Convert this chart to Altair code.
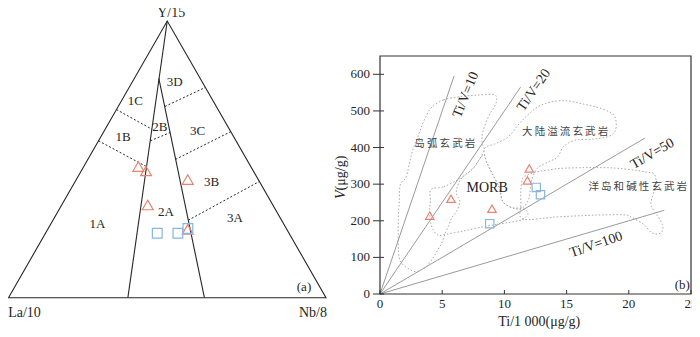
import altair as alt
import pandas as pd

# ======================= panel (a): La/10 - Y/15 - Nb/8 =======================
# all compositions as fractions (La, Y, Nb)
corner_label = ["La/10", "Y/15", "Nb/8"]
corner_la = [1.0, 0.0, 0.0]
corner_y = [0.0, 1.0, 0.0]
corner_nb = [0.0, 0.0, 1.0]

solid_name = ["1|2", "2|3"]
solid_start_la = [0.000, 0.130]
solid_start_y = [1.000, 0.793]
solid_start_nb = [0.000, 0.077]
solid_end_la = [0.624, 0.383]
solid_end_y = [0.000, 0.000]
solid_end_nb = [0.376, 0.617]

dotted_name = ["1C|1B", "1B|1A", "2B|2A", "3D|3C", "3C|3B", "3B|3A"]
dotted_start_la = [0.320, 0.433, 0.270, 0.162, 0.224, 0.294]
dotted_start_y = [0.680, 0.567, 0.567, 0.691, 0.500, 0.280]
dotted_start_nb = [0.000, 0.000, 0.163, 0.147, 0.276, 0.426]
dotted_end_la = [0.244, 0.329, 0.192, 0.000, 0.000, 0.000]
dotted_end_y = [0.609, 0.474, 0.597, 0.760, 0.600, 0.420]
dotted_end_nb = [0.147, 0.197, 0.211, 0.240, 0.400, 0.580]

field_label = ["1A", "1B", "1C", "2A", "2B", "3A", "3B", "3C", "3D"]
field_la = [0.586, 0.350, 0.245, 0.349, 0.215, 0.142, 0.151, 0.103, 0.086]
field_y = [0.268, 0.579, 0.711, 0.311, 0.617, 0.289, 0.418, 0.603, 0.781]
field_nb = [0.146, 0.071, 0.044, 0.340, 0.168, 0.569, 0.431, 0.294, 0.133]

tri_a_la = [0.354, 0.338, 0.394, 0.222, 0.312]
tri_a_y = [0.474, 0.458, 0.335, 0.427, 0.247]
tri_a_nb = [0.172, 0.204, 0.271, 0.351, 0.441]

sq_a_la = [0.415, 0.350, 0.310]
sq_a_y = [0.233, 0.233, 0.250]
sq_a_nb = [0.352, 0.417, 0.440]

# ======================= panel (b): Ti - V =======================
ti_max = 25
v_max = 650
x_ticks = [0, 5, 10, 15, 20, 25]
y_ticks = [0, 100, 200, 300, 400, 500, 600]

ratio_values = [10, 20, 50, 100]
ratio_end_ti = [5.95, 11.3, 21.3, 22.85]
ratio_label_ti = [6.9, 12.37, 21.9, 17.38]
ratio_label_v = [544, 557, 383, 135]

tri_b_ti = [4.0, 5.71, 9.0, 11.85, 12.0]
tri_b_v = [214, 260, 233, 310, 343]
sq_b_ti = [8.82, 12.56, 12.9]
sq_b_v = [192, 291, 271]

arc_ti = [4.19, 5.11, 6.42, 7.74, 9.06, 9.38, 9.27, 8.79, 8.27, 8.21, 8.35, 7.50, 6.60, 6.20, 6.16,
          6.42, 6.16, 5.77, 5.50, 5.20, 4.98, 4.58, 4.19, 3.79, 3.40, 2.87, 2.34, 1.82, 1.55, 1.47,
          1.47, 1.47, 1.55, 1.63, 2.08, 2.35, 2.60, 3.00, 3.40, 3.79]
arc_v = [511, 530, 539, 543, 545, 536, 516, 489, 444, 412, 390, 345, 318, 292, 271,
         253, 226, 208, 185, 162, 140, 117, 95, 77, 68, 61, 68, 81, 99, 126,
         162, 208, 253, 298, 318, 354, 390, 426, 462, 491]

morb_ti = [4.10, 5.13, 6.45, 7.50, 8.30, 8.56, 9.08, 9.61, 9.87, 10.66, 11.45, 11.90, 11.43, 10.11,
           8.53, 6.69, 5.11, 4.58, 4.11, 4.00, 4.05]
morb_v = [285, 293, 316, 343, 380, 361, 325, 289, 253, 235, 235, 220, 203, 194,
          185, 172, 162, 162, 189, 226, 253]

cfb_ti = [8.56, 8.40, 9.22, 10.27, 11.19, 12.11, 13.16, 14.74, 16.32, 17.90, 18.83, 18.96, 18.43,
          17.11, 15.67, 14.74, 14.27, 13.43, 12.64, 12.16, 11.98, 11.45, 10.66, 9.87, 9.61, 9.08]
cfb_v = [361, 397, 410, 428, 465, 496, 519, 528, 519, 505, 487, 451, 431,
         423, 420, 402, 374, 359, 343, 307, 262, 235, 235, 253, 289, 325]

oib_ti = [11.45, 11.85, 12.64, 13.43, 14.48, 16.32, 18.17, 19.22, 20.54, 21.40, 22.06, 22.17, 21.86,
          21.80, 22.30, 22.70, 22.70, 22.35, 21.80, 21.20, 20.30, 19.75, 17.90, 16.30, 14.45, 13.16,
          11.85, 11.27, 11.32, 11.32]
oib_v = [314, 325, 334, 338, 343, 345, 345, 343, 338, 333, 327, 298, 262,
         240, 214, 190, 172, 164, 168, 190, 208, 216, 216, 214, 211, 207,
         203, 212, 244, 280]

region_names = ["岛弧玄武岩", "MORB", "大陆溢流玄武岩", "洋岛和碱性玄武岩"]
region_label_ti = [5.21, 8.61, 14.88, 20.72]
region_label_v = [409, 289, 442, 293]

# ======================= helpers =======================
SERIF = "Liberation Serif"
CJK = "Noto Sans CJK SC"
DARK = "#262626"
RED = "#e8836f"
BLUE = "#86b7e3"

XA = alt.Scale(domain=[0, 1], range=[0.5, 318], nice=False, zero=False)
YA = alt.Scale(domain=[0, 1], range=[289.7, 13], nice=False, zero=False)
XB = alt.Scale(domain=[0, ti_max], range=[372, 683], nice=False, zero=False)
YB = alt.Scale(domain=[0, v_max], range=[286, 48], nice=False, zero=False)


def ax(f="u"):
    return alt.X(f, type="quantitative", scale=XA, axis=None)


def ay(f="v"):
    return alt.Y(f, type="quantitative", scale=YA, axis=None)


def bx(f="ti"):
    return alt.X(f, type="quantitative", scale=XB, axis=None)


def by(f="v"):
    return alt.Y(f, type="quantitative", scale=YB, axis=None)


def tern_points(la, y, nb, **extra):
    df = pd.DataFrame({"la": la, "y": y, "nb": nb, **extra})
    df["u"] = df["nb"] + df["y"] / 2.0
    df["v"] = df["y"]
    return df


def tern_segments(names, la0, y0, nb0, la1, y1, nb1):
    rows = []
    for n, a, b, c, d, e, f in zip(names, la0, y0, nb0, la1, y1, nb1):
        rows.append({"seg": n, "i": 0, "u": c + b / 2.0, "v": b})
        rows.append({"seg": n, "i": 1, "u": f + e / 2.0, "v": e})
    return pd.DataFrame(rows)


layers = []

# ---------- panel (a) ----------
corners = tern_points(corner_la, corner_y, corner_nb, label=corner_label, i=[0, 1, 2])
layers.append(
    alt.Chart(corners).mark_line(color=DARK, strokeWidth=1.1, interpolate="linear-closed")
    .encode(x=ax(), y=ay(), order="i:Q")
)
solid = tern_segments(solid_name, solid_start_la, solid_start_y, solid_start_nb,
                      solid_end_la, solid_end_y, solid_end_nb)
layers.append(
    alt.Chart(solid).mark_line(color=DARK, strokeWidth=1.1)
    .encode(x=ax(), y=ay(), detail="seg:N", order="i:Q")
)
dotted = tern_segments(dotted_name, dotted_start_la, dotted_start_y, dotted_start_nb,
                       dotted_end_la, dotted_end_y, dotted_end_nb)
layers.append(
    alt.Chart(dotted).mark_line(color=DARK, strokeWidth=1, strokeDash=[2, 2])
    .encode(x=ax(), y=ay(), detail="seg:N", order="i:Q")
)
fields = tern_points(field_la, field_y, field_nb, label=field_label)
layers.append(
    alt.Chart(fields).mark_text(font=SERIF, fontSize=13, color=DARK)
    .encode(x=ax(), y=ay(), text="label:N")
)
layers.append(
    alt.Chart(tern_points(tri_a_la, tri_a_y, tri_a_nb)).mark_point(
        shape="triangle-up", filled=False, size=120, strokeWidth=1.2, color=RED, opacity=1)
    .encode(x=ax(), y=ay())
)
layers.append(
    alt.Chart(tern_points(sq_a_la, sq_a_y, sq_a_nb)).mark_point(
        shape="square", filled=False, size=95, strokeWidth=1.2, color=BLUE, opacity=1)
    .encode(x=ax(), y=ay())
)
corner_style = {"La/10": dict(dx=16, dy=15), "Y/15": dict(dx=4, dy=-4, baseline="alphabetic"),
                "Nb/8": dict(dx=-13, dy=15)}
for lab in corner_label:
    layers.append(
        alt.Chart(corners[corners["label"] == lab]).mark_text(
            font=SERIF, fontSize=14, color=DARK, **corner_style[lab])
        .encode(x=ax(), y=ay(), text="label:N")
    )
panel_a_tag = corners[corners["label"] == "Nb/8"].assign(tag="(a)")
layers.append(
    alt.Chart(panel_a_tag).mark_text(font=SERIF, fontSize=13, color=DARK, dx=-22, dy=-11)
    .encode(x=ax(), y=ay(), text="tag:N")
)

# ---------- panel (b) ----------
# Ti/V reference lines
rl = []
for r, t in zip(ratio_values, ratio_end_ti):
    rl.append({"ratio": r, "ti": 0.0, "v": 0.0})
    rl.append({"ratio": r, "ti": t, "v": t * 1000.0 / r})
layers.append(
    alt.Chart(pd.DataFrame(rl)).mark_line(color="#9a9a9a", strokeWidth=1)
    .encode(x=bx(), y=by(), detail="ratio:N")
)

# dotted field outlines
rg = []
for name, ts, vs in [("arc", arc_ti, arc_v), ("morb", morb_ti, morb_v),
                     ("cfb", cfb_ti, cfb_v), ("oib", oib_ti, oib_v)]:
    for i, (t, v) in enumerate(zip(ts, vs)):
        rg.append({"region": name, "i": i, "ti": t, "v": v})
layers.append(
    alt.Chart(pd.DataFrame(rg)).mark_line(
        color="#a8a8a8", strokeWidth=1, strokeDash=[1.5, 2], interpolate="cardinal-closed")
    .encode(x=bx(), y=by(), detail="region:N", order="i:Q")
)

# frame
frame = pd.DataFrame({"x0": [0], "x1": [ti_max], "y0": [0], "y1": [v_max]})
layers.append(
    alt.Chart(frame).mark_rect(fill="transparent", stroke="#333333", strokeWidth=1.2)
    .encode(x=bx("x0"), x2="x1", y=by("y0"), y2="y1")
)

# ticks & tick labels
xt = pd.DataFrame({"ti": x_ticks, "v": [0] * len(x_ticks), "lab": [str(t) for t in x_ticks]})
yt = pd.DataFrame({"ti": [0] * len(y_ticks), "v": y_ticks, "lab": [str(t) for t in y_ticks]})
layers.append(
    alt.Chart(xt).mark_rule(color="#333333", strokeWidth=1, y2Offset=-4)
    .encode(x=bx(), y=by(), y2="v")
)
layers.append(
    alt.Chart(yt).mark_rule(color="#333333", strokeWidth=1, xOffset=-7, x2Offset=4)
    .encode(x=bx(), x2="ti", y=by())
)
layers.append(
    alt.Chart(xt).mark_text(font=SERIF, fontSize=13, color=DARK, baseline="top", dy=4)
    .encode(x=bx(), y=by(), text="lab:N")
)
layers.append(
    alt.Chart(yt).mark_text(font=SERIF, fontSize=13, color=DARK, align="right", dx=-10)
    .encode(x=bx(), y=by(), text="lab:N")
)

# axis titles
layers.append(
    alt.Chart(pd.DataFrame({"ti": [12.8], "v": [0], "t": ["Ti/1 000(μg/g)"]}))
    .mark_text(font=SERIF, fontSize=14, color=DARK, baseline="alphabetic", dy=32)
    .encode(x=bx(), y=by(), text="t:N")
)
ytitle = pd.DataFrame({"ti": [-3.1], "v": [283]})
layers.append(
    alt.Chart(ytitle.assign(t="V")).mark_text(
        font=SERIF, fontSize=14, fontStyle="italic", color=DARK, angle=270, align="right",
        baseline="middle")
    .encode(x=bx(), y=by(), text="t:N")
)
layers.append(
    alt.Chart(ytitle.assign(t="(μg/g)")).mark_text(
        font=SERIF, fontSize=14, color=DARK, angle=270, align="left", baseline="middle")
    .encode(x=bx(), y=by(), text="t:N")
)

# Ti/V labels
ratio_angles = [292, 305, 330, 341]
for r, t, v, a in zip(ratio_values, ratio_label_ti, ratio_label_v, ratio_angles):
    layers.append(
        alt.Chart(pd.DataFrame({"ti": [t], "v": [v], "t": [f"Ti/V={r}"]}))
        .mark_text(font=SERIF, fontSize=14, color=DARK, angle=a)
        .encode(x=bx(), y=by(), text="t:N")
    )

# region labels
for name, t, v in zip(region_names, region_label_ti, region_label_v):
    if name == "MORB":
        mk = alt.Chart(pd.DataFrame({"ti": [t], "v": [v], "t": [name]})).mark_text(
            font=SERIF, fontSize=14, color="#1a1a1a")
    else:
        mk = alt.Chart(pd.DataFrame({"ti": [t], "v": [v], "t": ["\u2009".join(name)]})).mark_text(
            font=CJK, fontSize=10.5, color="#444444")
    layers.append(mk.encode(x=bx(), y=by(), text="t:N"))

# samples
layers.append(
    alt.Chart(pd.DataFrame({"ti": tri_b_ti, "v": tri_b_v})).mark_point(
        shape="triangle-up", filled=False, size=72, strokeWidth=1.2, color=RED, opacity=1)
    .encode(x=bx(), y=by())
)
layers.append(
    alt.Chart(pd.DataFrame({"ti": sq_b_ti, "v": sq_b_v})).mark_point(
        shape="square", filled=False, size=70, strokeWidth=1.2, color=BLUE, opacity=1)
    .encode(x=bx(), y=by())
)
layers.append(
    alt.Chart(pd.DataFrame({"ti": [24.3], "v": [25], "t": ["(b)"]})).mark_text(
        font=SERIF, fontSize=13, color=DARK)
    .encode(x=bx(), y=by(), text="t:N")
)

chart = (
    alt.layer(*layers)
    .resolve_scale(x="independent", y="independent")
    .properties(width=684, height=321, autosize=alt.AutoSizeParams(type="none"), padding=0)
    .configure_view(strokeWidth=0)
)

chart.save("out.html", embed_options={"renderer": "svg", "actions": False})
